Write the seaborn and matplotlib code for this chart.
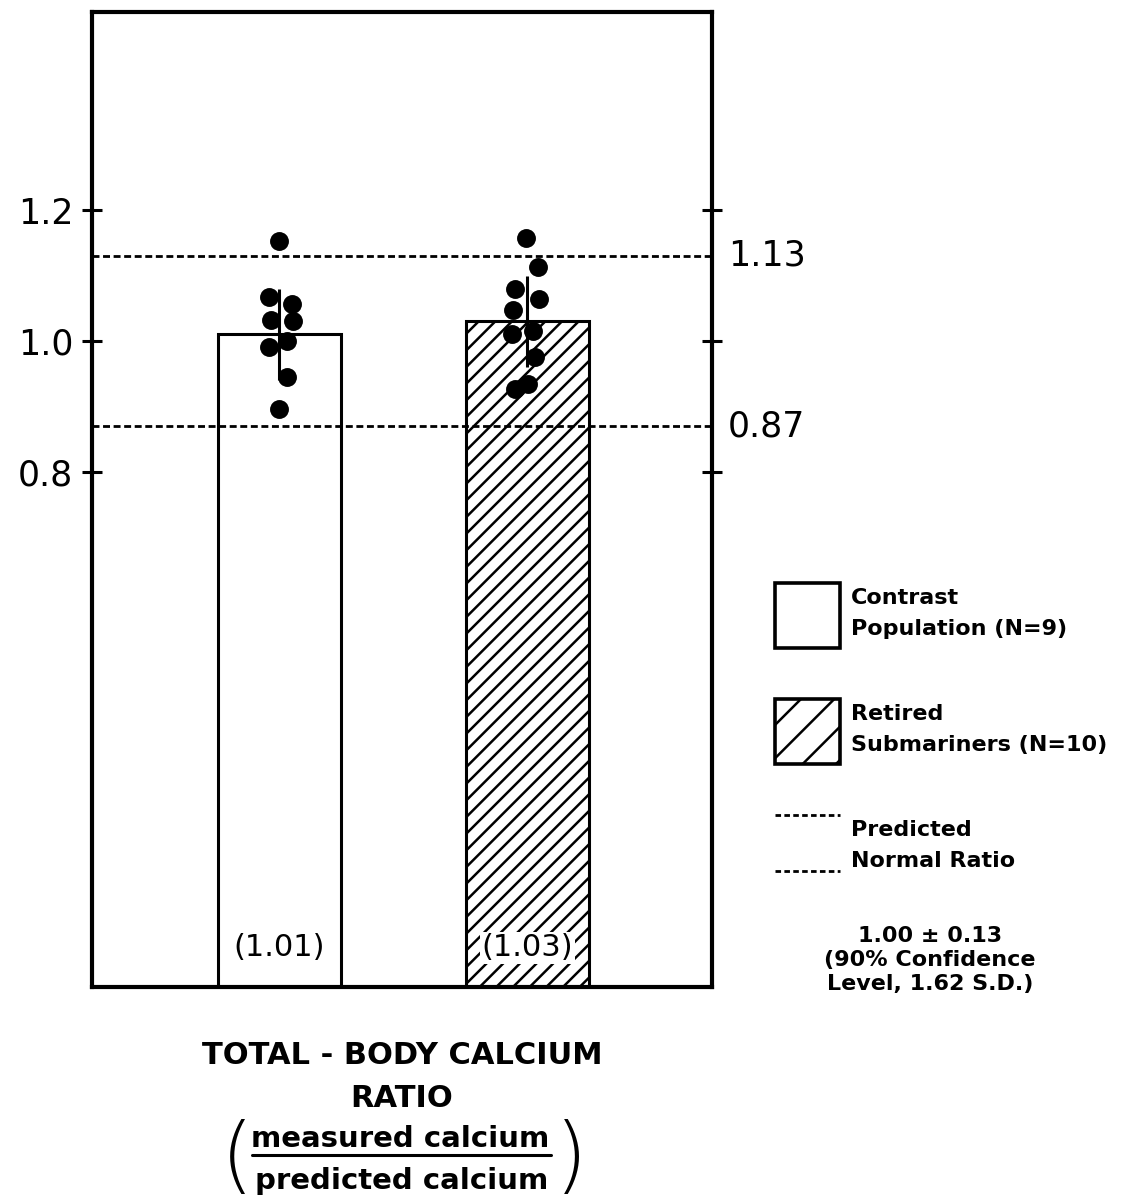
import matplotlib
matplotlib.use("Agg")
import matplotlib.pyplot as plt
import matplotlib.transforms as mtransforms
from matplotlib.patches import Patch
from matplotlib.lines import Line2D
from matplotlib.legend_handler import HandlerBase
import seaborn as sns
import numpy as np
import pandas as pd

# ---------------- data ----------------
groups = ["Contrast\nPopulation (N=9)", "Retired\nSubmariners (N=10)"]
group_means = [1.01, 1.03]
group_sd = [0.07, 0.07]
group_hatches = ["", "//"]
legend_hatches = ["", "/"]

contrast_values = [1.152, 1.067, 1.056, 1.032, 1.031, 1.000, 0.991, 0.945, 0.896]
contrast_jitter = [-0.002, -0.041, 0.049, -0.035, 0.056, 0.031, -0.041, 0.031, -0.002]
submariner_values = [1.157, 1.113, 1.079, 1.064, 1.048, 1.016, 1.011, 0.975, 0.935, 0.926]
submariner_jitter = [-0.007, 0.044, -0.050, 0.048, -0.057, 0.023, -0.064, 0.030, 0.001, -0.050]

normal_limits = [1.13, 0.87]
limit_labels = ["1.13", "0.87"]
normal_label = "Predicted\nNormal Ratio"
normal_note = "1.00 \u00b1 0.13\n(90% Confidence\nLevel, 1.62 S.D.)"

y_ticks = [0.8, 1.0, 1.2]
y_tick_labels = ["0.8", "1.0", "1.2"]

x_title = "TOTAL - BODY CALCIUM\nRATIO"
ratio_numerator = "measured calcium"
ratio_denominator = "predicted calcium"

# ---------------- style ----------------
sns.set_theme(style="white")
plt.rcParams["font.family"] = ["DejaVu Sans"]
plt.rcParams["hatch.linewidth"] = 1.8
plt.rcParams["text.color"] = "black"
plt.rcParams["axes.labelcolor"] = "black"

W, H = 1131, 1201
fig = plt.figure(figsize=(W / 100, H / 100), dpi=100)
ax = fig.add_axes([92 / W, 1 - 987 / H, 620 / W, 975 / H])

bar_df = pd.DataFrame({"pos": np.arange(len(groups)), "mean": group_means, "sd": group_sd})
sns.barplot(data=bar_df, x="pos", y="mean", native_scale=True, width=0.496,
            color="white", saturation=1, edgecolor="black", linewidth=2.2,
            errorbar=None, ax=ax, zorder=2)
for patch, h in zip(ax.patches, group_hatches):
    patch.set_hatch(h)
    patch.set_edgecolor("black")

ax.errorbar(bar_df["pos"], bar_df["mean"], yerr=bar_df["sd"], fmt="none",
            ecolor="black", elinewidth=2.2, capsize=0, zorder=3)

pts = pd.DataFrame({
    "x": np.concatenate([0 + np.array(contrast_jitter), 1 + np.array(submariner_jitter)]),
    "y": contrast_values + submariner_values,
})
sns.scatterplot(data=pts, x="x", y="y", color="black", s=185, edgecolor="black",
                linewidth=0, ax=ax, zorder=5, legend=False)

dash_style = (0, (2.5, 1.3))
trans = mtransforms.blended_transform_factory(ax.transAxes, ax.transData)
for v, lab in zip(normal_limits, limit_labels):
    ax.axhline(v, color="black", lw=2.0, ls=dash_style, zorder=4)
    ax.text(1.026, v, lab, transform=trans, ha="left", va="center", fontsize=25,
            clip_on=False)

# bar value labels
xtrans = mtransforms.blended_transform_factory(ax.transData, ax.transAxes)
for p, m in zip(bar_df["pos"], group_means):
    ax.text(p, 0.04, f"({m:.2f})", transform=xtrans, ha="center", va="center",
            fontsize=22, zorder=6,
            bbox=dict(facecolor="white", edgecolor="none", pad=1.0))

ax.set_xlim(-0.756, 1.744)
ax.set_ylim(0.0138, 1.5023)
ax.set_xticks([])
ax.set_yticks(y_ticks, y_tick_labels)
ax.set_ylabel("")
ax.tick_params(axis="y", which="both", direction="inout", length=15, width=2.2,
               left=True, right=True, labelright=False, labelsize=25, pad=6,
               color="black", labelcolor="black")
for s in ax.spines.values():
    s.set_visible(True)
    s.set_color("black")
    s.set_linewidth(3.0)

ax.set_xlabel(x_title, fontsize=22, fontweight="bold", labelpad=39, linespacing=1.6,
              color="black")

# ratio (measured / predicted) written as a fraction between large parentheses
fig.text(400 / W, 1 - 1139 / H, ratio_numerator, fontsize=21, fontweight="bold",
         ha="center", va="center")
fig.text(402 / W, 1 - 1181 / H, ratio_denominator, fontsize=21, fontweight="bold",
         ha="center", va="center")
fig.add_artist(Line2D([252 / W, 551 / W], [1 - 1155 / H] * 2, lw=2.2, color="black"))
fig.text(237 / W, 1 - 1160 / H, "(", fontsize=60, fontweight="light",
         ha="center", va="center")
fig.text(571 / W, 1 - 1160 / H, ")", fontsize=60, fontweight="light",
         ha="center", va="center")

# ---------------- legend ----------------
class HandlerDashPair(HandlerBase):
    def create_artists(self, legend, orig_handle, xdescent, ydescent, width, height,
                       fontsize, trans):
        kw = dict(color="black", lw=2.0, ls=(0, (2.0, 1.2)))
        x0, x1 = -xdescent, -xdescent + width
        top = Line2D([x0, x1], [-ydescent + height * 1.0] * 2, transform=trans, **kw)
        bot = Line2D([x0, x1], [-ydescent + height * 0.14] * 2, transform=trans, **kw)
        return [top, bot]

pair_handle = Line2D([], [])
handles = [Patch(facecolor="white", edgecolor="black", lw=2.6, hatch=h) for h in legend_hatches]
handles.append(pair_handle)
labels = groups + [normal_label]
leg = fig.legend(handles, labels, loc="upper left", bbox_to_anchor=(775 / W, 1 - 583 / H),
                 frameon=False, borderpad=0, borderaxespad=0, handlelength=2.93,
                 handleheight=4.12, handletextpad=0.5, labelspacing=2.3,
                 prop={"size": 16, "weight": "bold"},
                 handler_map={pair_handle: HandlerDashPair()})
for t in leg.get_texts():
    t.set_linespacing(1.7)

fig.text(930 / W, 1 - 960 / H, normal_note, ha="center", va="center", fontsize=16,
         fontweight="bold", linespacing=1.22, multialignment="center")

fig.savefig("out.png", dpi=100, facecolor="white")
